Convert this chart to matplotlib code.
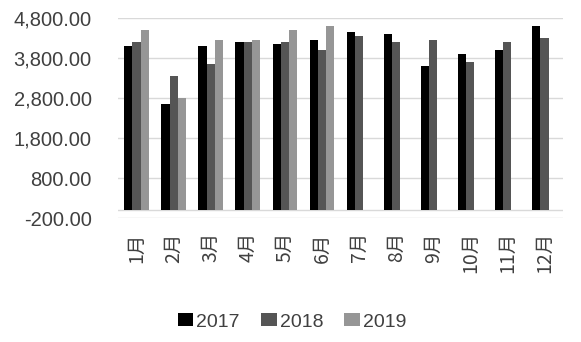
import numpy as np
import matplotlib
matplotlib.use("Agg")
import matplotlib.pyplot as plt
from matplotlib.ticker import FuncFormatter

months = ["1月", "2月", "3月", "4月", "5月", "6月", "7月", "8月", "9月", "10月", "11月", "12月"]
years = ["2017", "2018", "2019"]
v2017 = [4110, 2660, 4090, 4210, 4140, 4240, 4440, 4390, 3590, 3890, 4010, 4590]
v2018 = [4210, 3340, 3660, 4210, 4210, 3990, 4360, 4210, 4260, 3690, 4190, 4310]
v2019 = [4510, 2810, 4240, 4260, 4490, 4610, np.nan, np.nan, np.nan, np.nan, np.nan, np.nan]
yticks = [-200, 800, 1800, 2800, 3800, 4800]

colors = ["#000000", "#555555", "#969696"]
grid_c = "#d9d9d9"

plt.rcParams["font.family"] = ["Liberation Sans", "DejaVu Sans"]

fig = plt.figure(figsize=(5.81, 3.42), dpi=100)
ax = fig.add_axes([118 / 581, 1 - 218.3 / 342, (563 - 118) / 581, (218.3 - 18) / 342])

x = np.arange(len(months))
w = 1 / 4.5
for j, (vals, c, lab) in enumerate(zip([v2017, v2018, v2019], colors, years)):
    ax.bar(x + (j - 1) * w, vals, width=w, color=c, label=lab, zorder=3)

ax.set_xlim(-0.5, len(months) - 0.5)
ax.set_ylim(yticks[0], yticks[-1])
ax.set_yticks(yticks)
ax.yaxis.set_major_formatter(FuncFormatter(lambda v, p: f"{v:,.2f}"))
ax.grid(axis="y", color=grid_c, linewidth=1, zorder=0)
ax.axhline(0, color=grid_c, linewidth=1, zorder=2)
for s in ax.spines.values():
    s.set_visible(False)

ax.tick_params(axis="y", length=0, pad=19, labelsize=14.5, labelcolor="#404040")
ax.set_xticks(x)
ax.set_xticklabels(months, rotation=90, va="top", ha="center",
                   family=["Noto Sans CJK SC", "DejaVu Sans"], fontsize=14,
                   color="#404040")
ax.tick_params(axis="x", length=0, pad=10)

handles, labels = ax.get_legend_handles_labels()
fig.legend(handles, labels, loc="center", bbox_to_anchor=(292 / 581, 1 - 322 / 342),
           ncol=3, frameon=False, fontsize=14, handlelength=0.8, handleheight=0.6,
           handletextpad=0.15, columnspacing=1.1, labelcolor="#404040")

fig.savefig("out.png", dpi=100)
